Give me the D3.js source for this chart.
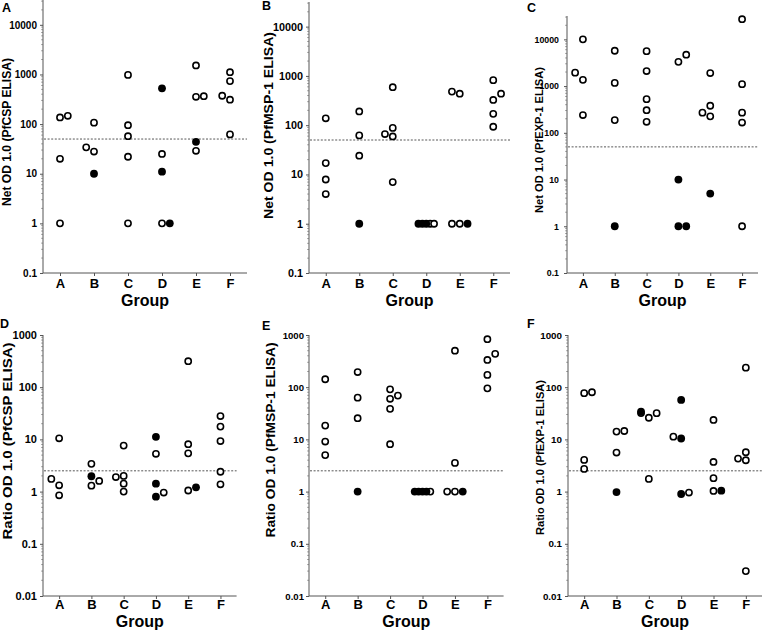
<!DOCTYPE html>
<html>
<head>
<meta charset="utf-8">
<script src="https://cdn.jsdelivr.net/npm/d3@7"></script>
<style>
  html, body { margin: 0; padding: 0; background: #fff; }
  svg { display: block; font-family: "Liberation Sans", Arial, sans-serif; }
</style>
</head>
<body>
<svg id="chart" width="763" height="633"></svg>
<script>
// ---------- DATA ----------
const groups = ["A", "B", "C", "D", "E", "F"];
const topTicks = [0.1, 1, 10, 100, 1000, 10000];
const bottomTicks = [0.01, 0.1, 1, 10, 100, 1000];
const netCutoff = 50;
const ratioCutoff = 2.5;

// rows: [group, value, filled (1 = filled), dodge index]
const netCSP = [
  ["A", 136, 0, 0], ["A", 147, 0, 1], ["A", 20, 0, 0], ["A", 1, 0, 0],
  ["B", 34, 0, -1], ["B", 107, 0, 0], ["B", 28, 0, 0], ["B", 10, 1, 0],
  ["C", 980, 0, 0], ["C", 95, 0, 0], ["C", 57, 0, 0], ["C", 22, 0, 0], ["C", 1, 0, 0],
  ["D", 525, 1, 0], ["D", 25, 0, 0], ["D", 11, 1, 0], ["D", 1, 0, 0], ["D", 1, 1, 1],
  ["E", 1520, 0, 0], ["E", 355, 0, 0], ["E", 365, 0, 1], ["E", 44, 1, 0], ["E", 29, 0, 0],
  ["F", 1110, 0, 0], ["F", 735, 0, 0], ["F", 372, 0, -1], ["F", 310, 0, 0], ["F", 62, 0, 0]
];
const netMSP1 = [
  ["A", 138, 0, 0], ["A", 17, 0, 0], ["A", 7.9, 0, 0], ["A", 4, 0, 0],
  ["B", 190, 0, 0], ["B", 62, 0, 0], ["B", 24, 0, 0], ["B", 1, 1, 0],
  ["C", 590, 0, 0], ["C", 88, 0, 0], ["C", 66, 0, -1], ["C", 59, 0, 0], ["C", 7, 0, 0],
  ["D", 1, 1, -1], ["D", 1, 1, -0.5], ["D", 1, 1, 0], ["D", 1, 0, 0.5], ["D", 1, 0, 1],
  ["E", 480, 0, -1], ["E", 435, 0, 0], ["E", 1, 0, -1], ["E", 1, 0, 0], ["E", 1, 1, 1],
  ["F", 820, 0, 0], ["F", 435, 0, 1], ["F", 325, 0, 0], ["F", 170, 0, 0], ["F", 93, 0, 0]
];
const netEXP1 = [
  ["A", 10000, 0, 0], ["A", 1940, 0, -1], ["A", 1360, 0, 0], ["A", 240, 0, 0],
  ["B", 5700, 0, 0], ["B", 1170, 0, 0], ["B", 187, 0, 0], ["B", 1, 1, 0],
  ["C", 5600, 0, 0], ["C", 2100, 0, 0], ["C", 525, 0, 0], ["C", 305, 0, 0], ["C", 172, 0, 0],
  ["D", 3300, 0, 0], ["D", 4700, 0, 1], ["D", 10, 1, 0], ["D", 1, 1, 0], ["D", 1, 1, 1],
  ["E", 1900, 0, 0], ["E", 380, 0, 0], ["E", 270, 0, -1], ["E", 225, 0, 0], ["E", 5, 1, 0],
  ["F", 27000, 0, 0], ["F", 1100, 0, 0], ["F", 270, 0, 0], ["F", 166, 0, 0], ["F", 1, 0, 0]
];
const ratioCSP = [
  ["A", 10.5, 0, 0], ["A", 1.75, 0, -1], ["A", 1.32, 0, 0], ["A", 0.85, 0, 0],
  ["B", 3.4, 0, 0], ["B", 1.97, 1, 0], ["B", 1.6, 0, 1], ["B", 1.3, 0, 0],
  ["C", 7.6, 0, 0], ["C", 2.0, 0, 0], ["C", 1.9, 0, -1], ["C", 1.42, 0, 0], ["C", 1.0, 0, 0],
  ["D", 11.2, 1, 0], ["D", 5.3, 0, 0], ["D", 1.42, 1, 0], ["D", 0.96, 0, 1], ["D", 0.8, 1, 0],
  ["E", 315, 0, 0], ["E", 8.1, 0, 0], ["E", 5.4, 0, 0], ["E", 1.21, 1, 1], ["E", 1.05, 0, 0],
  ["F", 28, 0, 0], ["F", 17.6, 0, 0], ["F", 9.3, 0, 0], ["F", 2.4, 0, 0], ["F", 1.38, 0, 0]
];
const ratioMSP1 = [
  ["A", 142, 0, 0], ["A", 18.4, 0, 0], ["A", 9.1, 0, 0], ["A", 5.0, 0, 0],
  ["B", 195, 0, 0], ["B", 63, 0, 0], ["B", 25.5, 0, 0], ["B", 1, 1, 0],
  ["C", 91, 0, 0], ["C", 69, 0, 1], ["C", 60, 0, 0], ["C", 38.5, 0, 0], ["C", 8.1, 0, 0],
  ["D", 1, 1, -1], ["D", 1, 1, -0.5], ["D", 1, 1, 0], ["D", 1, 1, 0.5], ["D", 1, 0, 1],
  ["E", 500, 0, 0], ["E", 3.55, 0, 0], ["E", 1, 0, -1], ["E", 1, 0, 0], ["E", 1, 1, 1],
  ["F", 830, 0, 0], ["F", 435, 0, 1], ["F", 333, 0, 0], ["F", 172, 0, 0], ["F", 95, 0, 0]
];
const ratioEXP1 = [
  ["A", 77, 0, 0], ["A", 80, 0, 1], ["A", 4.05, 0, 0], ["A", 2.72, 0, 0],
  ["B", 14.1, 0, 0], ["B", 14.5, 0, 1], ["B", 5.6, 0, 0], ["B", 0.98, 1, 0],
  ["C", 34, 1, -1], ["C", 32, 0, -1], ["C", 26, 0, 0], ["C", 31.8, 0, 1], ["C", 1.75, 0, 0],
  ["D", 57, 1, 0], ["D", 11.3, 0, -1], ["D", 10.4, 1, 0], ["D", 0.9, 1, 0], ["D", 0.96, 0, 1],
  ["E", 23.6, 0, 0], ["E", 3.7, 0, 0], ["E", 1.81, 0, 0], ["E", 1.03, 0, 0], ["E", 1.04, 1, 1],
  ["F", 237, 0, 0], ["F", 5.69, 0, 0], ["F", 4.29, 0, -1], ["F", 3.99, 0, 0], ["F", 0.03, 0, 0]
];

const panelLetters = ["A", "B", "C", "D", "E", "F"];
const yTitles = [
  "Net OD 1.0 (PfCSP ELISA)", "Net OD 1.0 (PfMSP-1 ELISA)", "Net OD 1.0 (PfEXP-1 ELISA)",
  "Ratio OD 1.0 (PfCSP ELISA)", "Ratio OD 1.0 (PfMSP-1 ELISA)", "Ratio OD 1.0 (PfEXP-1 ELISA)"
];
const xTitle = "Group";

// ---------- LAYOUT ----------
const layouts = [
  { data: netCSP, ticks: topTicks, dom: [0.1, Math.pow(10, 4.5)], cut: netCutoff,
    x0: 43, x1: 247, yb: 273, yt: 0, tickFont: 10, tickGap: 6,
    lx: 2, ly: 12, tcx: 7, tcy: 132, tlen: 148, tfont: 12, catY: 288, grpY: 306 },
  { data: netMSP1, ticks: topTicks, dom: [0.1, Math.pow(10, 4.5)], cut: netCutoff,
    x0: 309, x1: 510, yb: 273, yt: 2, tickFont: 10.8, tickGap: 6,
    lx: 262, ly: 10, tcx: 268, tcy: 125.5, tlen: 187, tfont: 13.5, catY: 288, grpY: 306 },
  { data: netEXP1, ticks: topTicks, dom: [0.1, Math.pow(10, 4.5)], cut: netCutoff,
    x0: 567, x1: 758, yb: 273, yt: 16, tickFont: 8.8, tickGap: 8,
    lx: 527, ly: 12, tcx: 539, tcy: 140, tlen: 146, tfont: 11, catY: 288, grpY: 306 },
  { data: ratioCSP, ticks: bottomTicks, dom: [0.01, 1000], cut: ratioCutoff,
    x0: 43, x1: 236.6, yb: 596, yt: 335, tickFont: 11, tickGap: 6,
    lx: 0, ly: 328, tcx: 7, tcy: 441, tlen: 197, tfont: 13, catY: 609, grpY: 627 },
  { data: ratioMSP1, ticks: bottomTicks, dom: [0.01, 1000], cut: ratioCutoff,
    x0: 309, x1: 503.6, yb: 596, yt: 335, tickFont: 9.6, tickGap: 5,
    lx: 262, ly: 330, tcx: 270, tcy: 440, tlen: 195, tfont: 13.5, catY: 609, grpY: 627 },
  { data: ratioEXP1, ticks: bottomTicks, dom: [0.01, 1000], cut: ratioCutoff,
    x0: 568, x1: 762, yb: 596, yt: 335, tickFont: 9.8, tickGap: 6,
    lx: 527, ly: 328, tcx: 540, tcy: 457.5, tlen: 155, tfont: 11, catY: 609, grpY: 627 }
];

const svg = d3.select("#chart");
const axisColor = "#555";
const dodgeStep = 7.8;

layouts.forEach((L, i) => {
  const g = svg.append("g");
  const x = d3.scalePoint().domain(groups).range([L.x0, L.x1]).padding(0.5);
  const y = d3.scaleLog().domain(L.dom).range([L.yb, L.yt]);

  // minor ticks on y axis
  const lo = Math.log10(L.dom[0]), hi = Math.log10(L.dom[1]);
  const minors = [];
  for (let e = Math.floor(lo); e <= Math.ceil(hi); e++) {
    for (let m = 2; m <= 9; m++) {
      const v = m * Math.pow(10, e);
      if (v > L.dom[0] && v < L.dom[1]) minors.push(v);
    }
  }
  g.append("g").selectAll("line").data(minors).join("line")
    .attr("x1", L.x0 - 2).attr("x2", L.x0)
    .attr("y1", d => y(d)).attr("y2", d => y(d))
    .attr("stroke", "#888").attr("stroke-width", 0.7);

  // y axis
  const yAxis = d3.axisLeft(y).tickValues(L.ticks)
    .tickFormat(d => String(+d.toPrecision(3))).tickSize(3).tickPadding(L.tickGap - 3);
  const ya = g.append("g").attr("transform", `translate(${L.x0},0)`).call(yAxis);
  ya.select(".domain").attr("stroke", axisColor).attr("stroke-width", 1)
    .attr("d", `M0,${L.yt}V${L.yb}`);
  ya.selectAll(".tick line").attr("stroke", axisColor);
  ya.selectAll(".tick text").attr("fill", "#000")
    .style("font-size", L.tickFont + "px").style("font-weight", "bold")
    .style("font-family", '"Liberation Sans", Arial, sans-serif');

  // x axis
  const xAxis = d3.axisBottom(x).tickSize(3).tickPadding(4);
  const xa = g.append("g").attr("transform", `translate(0,${L.yb})`).call(xAxis);
  xa.select(".domain").attr("stroke", axisColor).attr("d", `M${L.x0},0H${L.x1}`);
  xa.selectAll(".tick line").attr("stroke", axisColor);
  xa.selectAll(".tick text").attr("fill", "#000").attr("dy", null)
    .attr("y", L.catY - L.yb)
    .style("font-size", "13px").style("font-weight", "bold")
    .style("font-family", '"Liberation Sans", Arial, sans-serif');

  // cutoff line
  g.append("line")
    .attr("x1", L.x0 + 1).attr("x2", L.x1)
    .attr("y1", y(L.cut)).attr("y2", y(L.cut))
    .attr("stroke", "#444").attr("stroke-width", 0.9)
    .attr("stroke-dasharray", "2,1.6");

  // points: open first, filled drawn after
  const rows = L.data.map(r => ({ g: r[0], v: r[1], f: r[2], d: r[3] }));
  g.append("g").selectAll("circle")
    .data(rows.slice().sort((a, b) => a.f - b.f))
    .join("circle")
    .attr("cx", d => x(d.g) + d.d * dodgeStep)
    .attr("cy", d => y(d.v))
    .attr("r", d => d.f ? 3.9 : 3.1)
    .attr("fill", d => d.f ? "#000" : "#fff")
    .attr("stroke", "#000")
    .attr("stroke-width", d => d.f ? 0 : 1.6);

  // x title
  g.append("text")
    .attr("x", (L.x0 + L.x1) / 2).attr("y", L.grpY)
    .attr("text-anchor", "middle")
    .style("font-size", "16px").style("font-weight", "bold")
    .text(xTitle);

  // y title
  g.append("text")
    .attr("transform", `translate(${L.tcx},${L.tcy}) rotate(-90)`)
    .attr("text-anchor", "middle")
    .attr("dominant-baseline", "central")
    .attr("textLength", L.tlen).attr("lengthAdjust", "spacingAndGlyphs")
    .style("font-size", L.tfont + "px").style("font-weight", "bold")
    .text(yTitles[i]);

  // panel letter
  g.append("text")
    .attr("x", L.lx).attr("y", L.ly)
    .style("font-size", "12.5px").style("font-weight", "bold")
    .text(panelLetters[i]);
});
</script>
</body>
</html>
